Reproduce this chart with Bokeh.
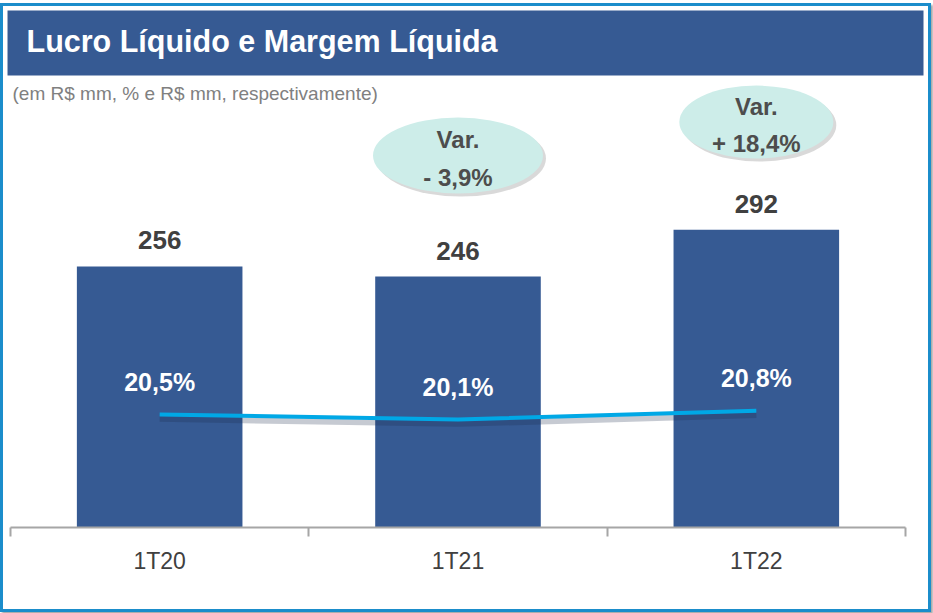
from bokeh.plotting import figure
from bokeh.models import Range1d, FixedTicker, BoxAnnotation, Label
from bokeh.core.properties import value
from bokeh.embed import file_html
from bokeh.resources import INLINE

# ---- data ----
categories = ["1T20", "1T21", "1T22"]
lucro = [256, 246, 292]
lucro_labels = ["256", "246", "292"]
margem = [20.5, 20.1, 20.8]
margem_labels = ["20,5%", "20,1%", "20,8%"]
var_categories = ["1T21", "1T22"]
var_labels = ["Var.\n- 3,9%", "Var.\n+ 18,4%"]
title_text = "Lucro Líquido e Margem Líquida"
subtitle_text = "(em R$ mm, % e R$ mm, respectivamente)"

# ---- layout / styles ----
FONT = "Liberation Sans"
BAR_COLOR = "#365A93"
LINE_COLOR = "#00A8E6"
ELLIPSE_COLOR = "#CDEDE9"
DARK_TEXT = "#404040"

W, H = 931, 609
xs = list(range(1, len(categories) + 1))
xmap = dict(zip(categories, xs))

p = figure(width=W, height=H, output_backend="svg", toolbar_location=None,
           x_range=Range1d(0.47654, 3.59725), y_range=Range1d(0, 510.78),
           y_axis_location=None, x_axis_location="below",
           min_border_left=0, min_border_right=0, min_border_top=0,
           min_border_bottom=88)
p.styles = {"border": "3px solid #1B8DCB", "box-shadow": "2px 2px 2px #A8A8A8",
            "margin-top": "3px"}
p.outline_line_color = None
p.xgrid.visible = False
p.ygrid.visible = False
p.background_fill_color = "white"
p.border_fill_color = "white"

p.extra_y_ranges = {"pct": Range1d(11.46, 53.14)}

# banner
banner = BoxAnnotation(left=0.49, right=3.5604, top=506.9, bottom=443.1,
                       fill_color="#365A93", fill_alpha=1.0, line_color=None)
p.add_layout(banner)
p.add_layout(Label(x=0.49, y=476.5, x_offset=19, text=title_text,
                   text_font=FONT, text_font_style="bold",
                   text_font_size="30.5px", text_color="white",
                   text_baseline="middle", text_align="left"))
p.add_layout(Label(x=0.49, y=425.5, x_offset=5, text=subtitle_text,
                   text_font=FONT, text_font_style="normal",
                   text_font_size="19px", text_color="#808080",
                   text_baseline="middle", text_align="left"))

# bars
p.vbar(x=xs, top=lucro, width=0.555, fill_color=BAR_COLOR, line_color=None)
p.text(x=xs, y=lucro, text=lucro_labels, y_offset=-26,
       text_font=value(FONT), text_font_style="bold", text_font_size="26px",
       text_color=DARK_TEXT, text_align="center", text_baseline="alphabetic")

# margin line with shadow
p.line(x=xs, y=[m - 0.35 for m in margem], y_range_name="pct",
       line_color="#1A2A4A", line_alpha=0.25, line_width=6)
p.line(x=xs, y=margem, y_range_name="pct", line_color=LINE_COLOR, line_width=4)
p.text(x=xs, y=margem, y_range_name="pct", text=margem_labels, y_offset=-33,
       text_font=value(FONT), text_font_style="bold", text_font_size="25px",
       text_color="white", text_align="center", text_baseline="alphabetic")

# variation ellipses
ex = [xmap[c] for c in var_categories]
ey = [364.7, 397.5]
ew = [170, 154]
eh = [76, 73]
p.ellipse(x=[e + 0.01 for e in ex], y=[e - 3 for e in ey], width=ew, height=eh,
          width_units="screen", height_units="screen",
          fill_color="#808080", fill_alpha=0.3, line_color=None)
p.ellipse(x=ex, y=ey, width=ew, height=eh,
          width_units="screen", height_units="screen",
          fill_color=ELLIPSE_COLOR, line_color=None)
p.text(x=ex, y=ey, text=var_labels, y_offset=3, text_font=value(FONT),
       text_font_style="bold", text_font_size="24px", text_color="#4D4D4D",
       text_align="center", text_baseline="middle", text_line_height=1.4)

# x axis: labels at centers, boundary ticks as minor ticks
ax = p.xaxis[0]
ax.ticker = FixedTicker(ticks=xs, minor_ticks=[x - 0.5 for x in xs] + [xs[-1] + 0.5])
ax.major_label_overrides = {x: c for x, c in zip(xs, categories)}
ax.bounds = (xs[0] - 0.5, xs[-1] + 0.5)
ax.major_tick_line_color = None
ax.major_tick_out = 0
ax.major_tick_in = 0
ax.minor_tick_out = 9
ax.minor_tick_in = 0
ax.minor_tick_line_color = "#A6A6A6"
ax.minor_tick_line_width = 2
ax.axis_line_color = "#A6A6A6"
ax.axis_line_width = 2
ax.major_label_standoff = 11
ax.major_label_text_font = FONT
ax.major_label_text_font_size = "23px"
ax.major_label_text_color = DARK_TEXT

open("out.html", "w").write(file_html(p, INLINE))
